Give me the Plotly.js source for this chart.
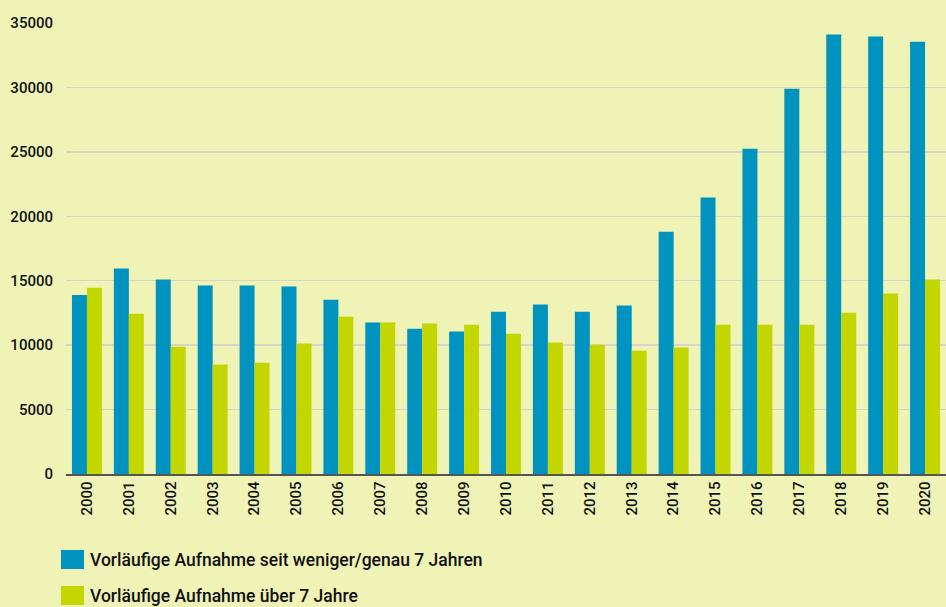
<!DOCTYPE html>
<html>
<head>
<meta charset="utf-8">
<script src="https://cdn.plot.ly/plotly-3.0.1.min.js"></script>
<style>html,body{margin:0;padding:0;background:#eff3b6;}#chart{width:946px;height:607px;}</style>
</head>
<body>
<div id="chart"></div>
<script>
var years = ['2000','2001','2002','2003','2004','2005','2006','2007','2008','2009','2010','2011','2012','2013','2014','2015','2016','2017','2018','2019','2020'];
var seriesNames = ['Vorläufige Aufnahme seit weniger/genau 7 Jahren', 'Vorläufige Aufnahme über 7 Jahre'];
var upTo7 = [13900, 15950, 15100, 14620, 14620, 14550, 13530, 11750, 11280, 11050, 12600, 13150, 12600, 13070, 18800, 21450, 25250, 29900, 34100, 33950, 33550];
var over7 = [14460, 12440, 9880, 8490, 8640, 10120, 12210, 11750, 11670, 11590, 10890, 10200, 10040, 9570, 9810, 11590, 11590, 11590, 12520, 14000, 15090];
var yTicks = [0, 5000, 10000, 15000, 20000, 25000, 30000, 35000];
var colors = ['#0093bf', '#c4d600'];

var font = 'Roboto, "DejaVu Sans", sans-serif';
var traces = [
  {type:'bar', x: years, y: upTo7, name: seriesNames[0], marker:{color: colors[0]}, showlegend:false},
  {type:'bar', x: years, y: over7, name: seriesNames[1], marker:{color: colors[1]}, showlegend:false}
];

var H = 451, W = 880;
function px2py(py){ return (474 - py) / H; }
function px2px(px){ return (px - 66) / W; }
var legendRows = [559.5, 595.5];
var shapes = [], annotations = [];
for (var i = 0; i < seriesNames.length; i++) {
  shapes.push({type:'rect', xref:'paper', yref:'paper', x0: px2px(61), x1: px2px(84), y0: px2py(legendRows[i] + 9.5), y1: px2py(legendRows[i] - 9.5), fillcolor: colors[i], line:{width:0}});
  annotations.push({xref:'paper', yref:'paper', x: px2px(88), y: px2py(legendRows[i]), xanchor:'left', yanchor:'middle', text: seriesNames[i], showarrow:false, font:{family: font, size:17.5, weight:500, color:'#111'}});
}

var layout = {
  width: 946, height: 607,
  margin: {l:66, r:0, t:23, b:133},
  paper_bgcolor: '#eff3b6',
  plot_bgcolor: '#eff3b6',
  barmode: 'group',
  bargap: 0.285,
  bargroupgap: 0,
  showlegend: false,
  xaxis: {
    type:'category', tickangle: -90, showgrid:false, zeroline:false,
    showline:true, linecolor:'#555', linewidth:1.5,
    tickfont:{family: font, size:15, weight:500, color:'#111'}, ticks:''
  },
  yaxis: {
    range:[0, 35000], tickvals: yTicks, ticktext: yTicks.map(String),
    showgrid:true, gridcolor:'#d5d6c6', gridwidth:1.5, zeroline:false, showline:false,
    tickfont:{family: font, size:15, weight:500, color:'#111'}, ticks:'', ticklabelstandoff: 12
  },
  shapes: shapes,
  annotations: annotations
};
Plotly.newPlot('chart', traces, layout, {displayModeBar:false, staticPlot:true});
</script>
</body>
</html>
